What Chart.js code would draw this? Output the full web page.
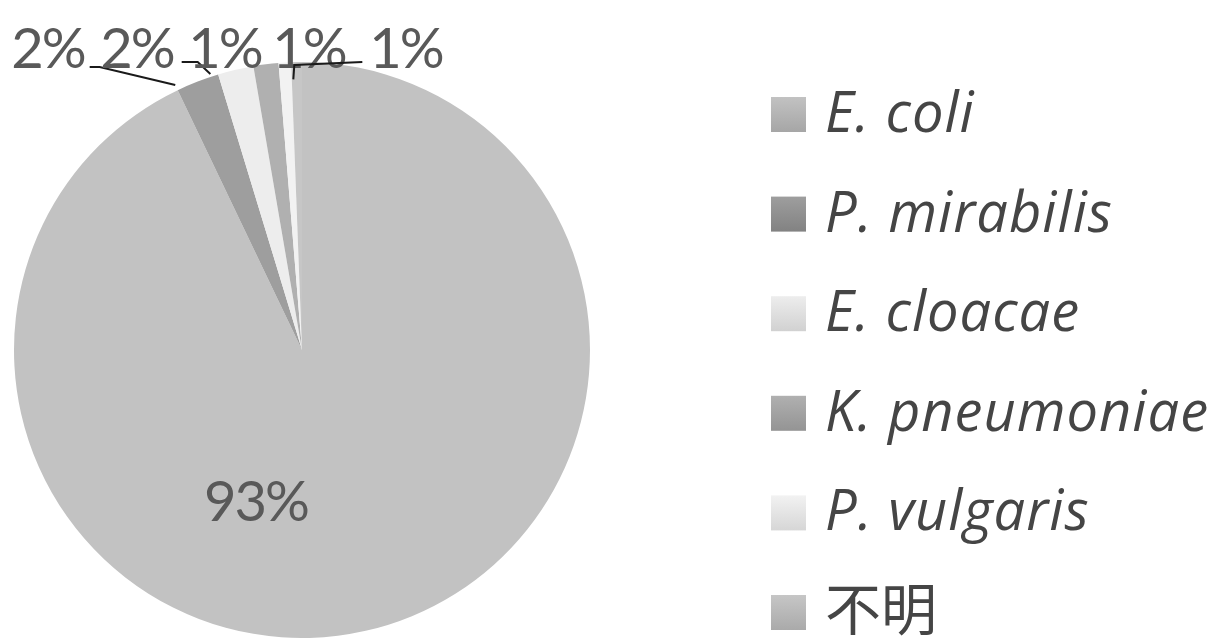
<!DOCTYPE html>
<html>
<head>
<meta charset="utf-8">
<script src="https://cdn.jsdelivr.net/npm/chart.js@4.4.0/dist/chart.umd.min.js"></script>
<style>
  html, body { margin: 0; padding: 0; background: #fff; }
  #wrap { width: 1216px; height: 638px; }
</style>
</head>
<body>
<div id="wrap"><canvas id="chart" width="1216" height="638"></canvas></div>
<script>
// species found and their share of the isolates (%)
const species = ['E. coli', 'P. mirabilis', 'E. cloacae', 'K. pneumoniae', 'P. vulgaris', '不明'];
const shares = [92.9, 2.4, 2.0, 1.4, 0.7, 0.6];
const sliceColors = ['#c2c2c2', '#9e9e9e', '#ededed', '#b0b0b0', '#f2f2f2', '#c6c6c6'];
// latin names are set in italics, the Japanese one is not
const italicNames = [true, true, true, true, true, false];

// layout of the percentage labels above the pie
const outerLabelX = [null, 48, 137, 225, 309, 406];
const outerLabelBaseline = 68;
// leader lines: side of the label, gap, horizontal run, y, where it hits the slice
const leaders = [
    null,
    { side: 'right', gap: 5, run: 10, y: 67, frac: 0.0, rf: 1.02 },
    { side: 'right', gap: 8, run: 16, y: 62, frac: -0.2, rf: 1.01 },
    null,
    null,
    { side: 'left', gap: 7, run: 68, y: 62, frac: 0.15, rf: 0.94 }
];
// the big label sits a bit off the middle of its slice
const innerLabelShift = 29.5 * Math.PI / 180;
const innerLabelRadius = 0.555;

const labelFont = '56px Lato, "Noto Sans CJK JP", sans-serif';
const textGray = '#595959';

function pct(v) {
    return Math.round(v) + '%';
}

// percentages and leader lines
const pieLabels = {
    id: 'pieLabels',
    afterDatasetsDraw(chart) {
        const ctx = chart.ctx;
        const arcs = chart.getDatasetMeta(0).data;
        ctx.save();
        ctx.font = labelFont;
        ctx.letterSpacing = '-2px';
        ctx.fillStyle = textGray;
        ctx.textBaseline = 'alphabetic';
        arcs.forEach((arc, i) => {
            const p = arc.getProps(['x', 'y', 'startAngle', 'endAngle', 'outerRadius'], true);
            const text = pct(shares[i]);
            if (i === 0) {
                const a = (p.startAngle + p.endAngle) / 2 + innerLabelShift;
                const r = p.outerRadius * innerLabelRadius;
                ctx.textAlign = 'center';
                ctx.textBaseline = 'middle';
                ctx.fillText(text, p.x + r * Math.cos(a), p.y + r * Math.sin(a));
                ctx.textBaseline = 'alphabetic';
                return;
            }
            ctx.textAlign = 'center';
            const cx = outerLabelX[i];
            ctx.fillText(text, cx, outerLabelBaseline);
            const ld = leaders[i];
            if (!ld) return;
            const w = ctx.measureText(text).width;
            const a = p.startAngle + ld.frac * (p.endAngle - p.startAngle);
            const ex = p.x + ld.rf * p.outerRadius * Math.cos(a);
            const ey = p.y + ld.rf * p.outerRadius * Math.sin(a);
            let sx, mx;
            if (ld.side === 'right') {
                sx = cx + w / 2 + ld.gap;
                mx = sx + ld.run;
            } else {
                sx = cx - w / 2 - ld.gap;
                mx = sx - ld.run;
            }
            ctx.beginPath();
            ctx.strokeStyle = '#1a1a1a';
            ctx.lineWidth = 2;
            ctx.moveTo(sx, ld.y);
            ctx.lineTo(mx, ld.y + (ld.side === 'left' ? 3 : 0));
            ctx.lineTo(ex, ey);
            ctx.stroke();
        });
        ctx.restore();
    }
};

// legend drawn at the right, one row per species
const sideLegend = {
    id: 'sideLegend',
    afterDraw(chart) {
        const ctx = chart.ctx;
        const colors = chart.data.datasets[0].backgroundColor;
        ctx.save();
        chart.data.labels.forEach((name, i) => {
            const base = 132 + i * 99.6;
            const box = 35;
            const g = ctx.createLinearGradient(0, base - box, 0, base);
            g.addColorStop(0, colors[i]);
            g.addColorStop(1, shade(colors[i], -28));
            ctx.fillStyle = g;
            ctx.fillRect(771, base - box, box, box);
            if (italicNames[i]) {
                ctx.font = 'italic 56px "Open Sans", sans-serif';
                ctx.letterSpacing = '1px';
            } else {
                ctx.font = '56px "Noto Sans CJK JP", sans-serif';
                ctx.letterSpacing = '0px';
            }
            ctx.fillStyle = '#454545';
            ctx.textAlign = 'left';
            ctx.textBaseline = 'alphabetic';
            ctx.fillText(name, 825, base);
        });
        ctx.restore();
    }
};

function shade(hex, d) {
    const n = parseInt(hex.slice(1), 16);
    const c = v => Math.max(0, Math.min(255, v + d));
    const r = c(n >> 16), g = c((n >> 8) & 255), b = c(n & 255);
    return 'rgb(' + r + ',' + g + ',' + b + ')';
}

new Chart(document.getElementById('chart'), {
    type: 'pie',
    data: {
        labels: species,
        datasets: [{
            data: shares,
            backgroundColor: sliceColors,
            borderWidth: 0
        }]
    },
    options: {
        responsive: false,
        devicePixelRatio: 1,
        animation: false,
        layout: {
            padding: { left: 14, top: 62, right: 626, bottom: 0 }
        },
        plugins: {
            legend: { display: false },
            tooltip: { enabled: false }
        }
    },
    plugins: [pieLabels, sideLegend]
});
</script>
</body>
</html>
